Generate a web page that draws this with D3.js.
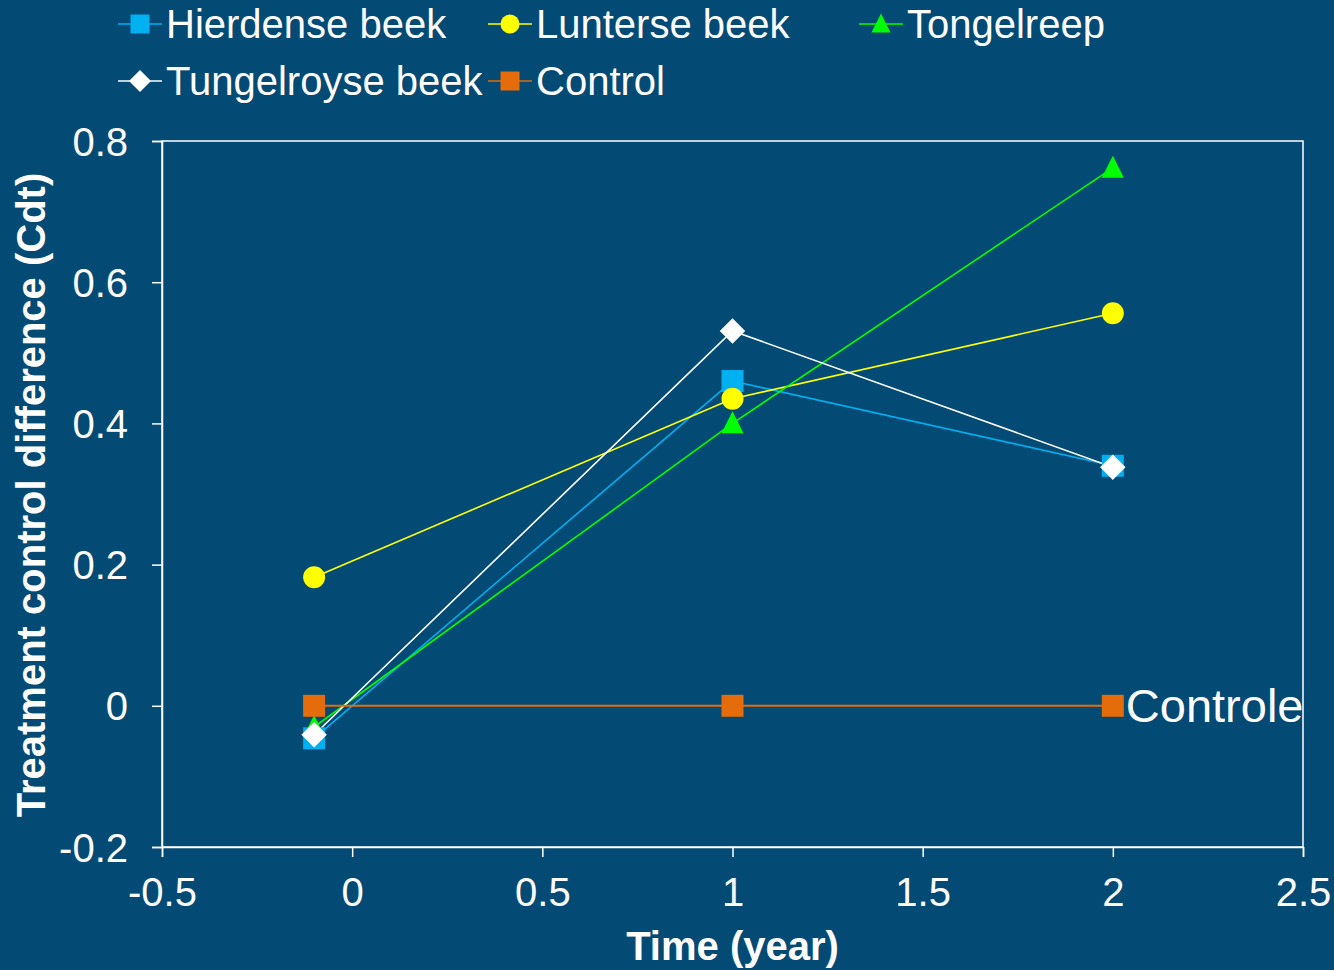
<!DOCTYPE html>
<html>
<head>
<meta charset="utf-8">
<script src="https://cdn.jsdelivr.net/npm/d3@7"></script>
<style>
  html, body { margin: 0; padding: 0; background: #034a74; }
  svg text { font-family: "Liberation Sans", Arial, sans-serif; fill: #ffffff; }
</style>
</head>
<body>
<div id="chart-container"></div>
<script>
// Data
const years = [-0.1, 1, 2];
const hierdense = [-0.046, 0.46, 0.34];
const lunterse = [0.182, 0.435, 0.556];
const tongelreep = [-0.03, 0.40, 0.762];
const tungelroyse = [-0.041, 0.531, 0.338];
const control = [0, 0, 0];
const xTicks = [-0.5, 0, 0.5, 1, 1.5, 2, 2.5];
const yTicks = [-0.2, 0, 0.2, 0.4, 0.6, 0.8];

const series = [
    { name: 'Hierdense beek', values: hierdense, color: '#00b0f0', shape: 'square' },
    { name: 'Lunterse beek', values: lunterse, color: '#ffff00', shape: 'circle' },
    { name: 'Tongelreep', values: tongelreep, color: '#00ff00', shape: 'triangle' },
    { name: 'Tungelroyse beek', values: tungelroyse, color: '#ffffff', shape: 'diamond' },
    { name: 'Control', values: control, color: '#e46c0a', shape: 'square' }
];

const W = 1334, H = 970;
const margin = { top: 141, right: 31, bottom: 123, left: 162 };
const width = W - margin.left - margin.right;
const height = H - margin.top - margin.bottom;

const svg = d3.select('#chart-container')
    .append('svg')
    .attr('width', W)
    .attr('height', H);

const g = svg.append('g')
    .attr('transform', `translate(${margin.left},${margin.top})`);

const xScale = d3.scaleLinear().domain([-0.5, 2.5]).range([0, width]);
const yScale = d3.scaleLinear().domain([-0.2, 0.8]).range([height, 0]);

// Marker drawing
function marker(sel, shape, color, s) {
    if (shape === 'square') {
        sel.append('rect').attr('x', -s / 2).attr('y', -s / 2)
            .attr('width', s).attr('height', s).attr('fill', color);
    } else if (shape === 'circle') {
        sel.append('circle').attr('r', s / 2).attr('fill', color);
    } else if (shape === 'triangle') {
        sel.append('path')
            .attr('d', `M0,${-s * 0.55}L${s / 2},${s * 0.45}L${-s / 2},${s * 0.45}Z`)
            .attr('fill', color);
    } else if (shape === 'diamond') {
        const r = s * 0.58;
        sel.append('path')
            .attr('d', `M0,${-r}L${r},0L0,${r}L${-r},0Z`)
            .attr('fill', color);
    }
}

// Frame
g.append('rect')
    .attr('width', width).attr('height', height)
    .attr('fill', 'none').attr('stroke', '#ffffff').attr('stroke-width', 1.5);

// Axes
const fmt = d => (d === 0 ? '0' : String(d));
const xAxis = g.append('g')
    .attr('transform', `translate(0,${height})`)
    .call(d3.axisBottom(xScale).tickValues(xTicks).tickSize(10).tickPadding(21).tickFormat(fmt));
const yAxis = g.append('g')
    .call(d3.axisLeft(yScale).tickValues(yTicks).tickSize(10).tickPadding(24).tickFormat(fmt));

[xAxis, yAxis].forEach(a => {
    a.select('.domain').attr('stroke', '#ffffff').attr('stroke-width', 1.5);
    a.selectAll('.tick line').attr('stroke', '#ffffff').attr('stroke-width', 1.5);
    a.selectAll('.tick text')
        .style('font-family', '"Liberation Sans", Arial, sans-serif')
        .style('font-size', '40px')
        .attr('fill', '#ffffff');
});
yAxis.selectAll('.tick text').attr('dy', '0.35em');

// Lines and markers
const line = d3.line()
    .x((d, i) => xScale(years[i]))
    .y(d => yScale(d));

series.forEach(s => {
    g.append('path')
        .datum(s.values)
        .attr('d', line)
        .attr('fill', 'none')
        .attr('stroke', s.color)
        .attr('stroke-width', s.name === 'Control' ? 2 : 1.6);
});
series.forEach(s => {
    s.values.forEach((v, i) => {
        const m = g.append('g')
            .attr('transform', `translate(${xScale(years[i])},${yScale(v)})`);
        marker(m, s.shape, s.color, 22);
    });
});

// "Controle" label
g.append('text')
    .attr('x', xScale(2) + 13)
    .attr('y', yScale(0))
    .attr('dy', '0.35em')
    .style('font-size', '47px')
    .text('Controle');

// Legend
const legendPos = [
    { x: 118, y: 24 }, { x: 488, y: 24 }, { x: 859, y: 24 },
    { x: 118, y: 81 }, { x: 488, y: 81 }
];
series.forEach((s, i) => {
    const p = legendPos[i];
    const lg = svg.append('g').attr('transform', `translate(${p.x},${p.y})`);
    lg.append('line').attr('x1', 0).attr('x2', 44)
        .attr('stroke', s.color).attr('stroke-width', 1.6);
    marker(lg.append('g').attr('transform', 'translate(22,0)'), s.shape, s.color, 19);
    lg.append('text')
        .attr('x', 48).attr('dy', '0.36em')
        .style('font-size', '40px')
        .text(s.name);
});

// Axis titles
svg.append('text')
    .attr('x', margin.left + xScale(1))
    .attr('y', 960)
    .attr('text-anchor', 'middle')
    .style('font-size', '40px')
    .style('font-weight', 'bold')
    .text('Time (year)');

svg.append('text')
    .attr('transform', 'rotate(-90)')
    .attr('x', -495)
    .attr('y', 45)
    .attr('text-anchor', 'middle')
    .style('font-size', '40px')
    .style('font-weight', 'bold')
    .text('Treatment control difference (Cdt)');
</script>
</body>
</html>
